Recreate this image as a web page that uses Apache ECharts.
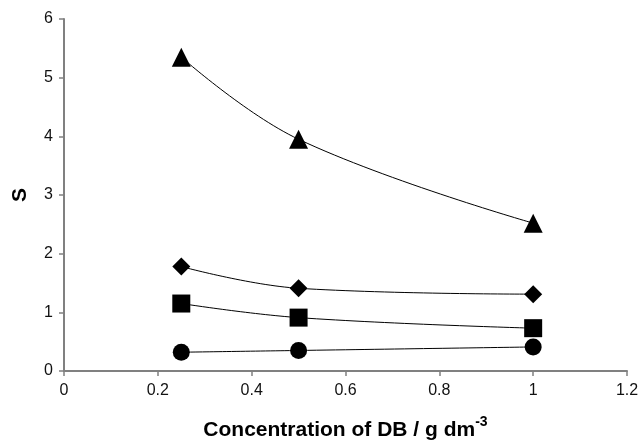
<!DOCTYPE html>
<html>
<head>
<meta charset="utf-8">
<script src="https://cdn.jsdelivr.net/npm/echarts@6/dist/echarts.min.js"></script>
<style>
  html, body { margin: 0; padding: 0; background: #fff; }
  #chart { width: 641px; height: 440px; }
</style>
</head>
<body>
<div id="chart"></div>
<script>
// concentration of DB (g dm^-3)
const conc = [0.25, 0.5, 1.0];

// S values per series
const triangleS = [5.35, 3.95, 2.52];
const diamondS = [1.78, 1.41, 1.31];
const squareS = [1.15, 0.91, 0.73];
const circleS = [0.32, 0.35, 0.41];

const xTicks = [0, 0.2, 0.4, 0.6, 0.8, 1, 1.2];
const yTicks = [0, 1, 2, 3, 4, 5, 6];

const FONT = "Liberation Sans, Arial, sans-serif";
const pairs = (ys) => conc.map((x, i) => [x, ys[i]]);

function line(symbol, ys, size) {
  return {
    type: "line",
    data: pairs(ys),
    smooth: 0.4,
    symbol: symbol,
    symbolSize: size,
    showAllSymbol: true,
    itemStyle: { color: "#000" },
    lineStyle: { color: "#000", width: 1 },
    z: 3,
  };
}

const chart = echarts.init(document.getElementById("chart"));
chart.setOption({
  animation: false,
  backgroundColor: "#fff",
  textStyle: { fontFamily: FONT },
  grid: { left: 64, right: 14, top: 19, bottom: 69, containLabel: false, outerBoundsMode: "none" },
  xAxis: {
    type: "value",
    min: xTicks[0],
    max: xTicks[xTicks.length - 1],
    interval: 0.2,
    splitLine: { show: false },
    axisLine: { lineStyle: { color: "#808080", width: 2 } },
    axisTick: { length: 5, lineStyle: { color: "#808080", width: 1.5 } },
    axisLabel: {
      color: "#111",
      fontSize: 16,
      fontFamily: FONT,
      margin: 12,
      formatter: (v) => String(+v.toFixed(1)),
    },
    name: "{a|Concentration of DB / g dm}{s|-3}",
    nameLocation: "middle",
    nameGap: 44,
    nameTextStyle: {
      rich: {
        a: { fontSize: 21, fontWeight: "bold", fontFamily: FONT, color: "#000", lineHeight: 26, verticalAlign: "bottom" },
        s: { fontSize: 14, fontWeight: "bold", fontFamily: FONT, color: "#000", lineHeight: 26, verticalAlign: "top", padding: [0, 0, 10, 0] },
      },
    },
  },
  yAxis: {
    type: "value",
    min: yTicks[0],
    max: yTicks[yTicks.length - 1],
    interval: 1,
    splitLine: { show: false },
    axisLine: { lineStyle: { color: "#808080", width: 2 } },
    axisTick: { length: 5, lineStyle: { color: "#808080", width: 1.5 } },
    axisLabel: { color: "#111", fontSize: 16, fontFamily: FONT, margin: 11 },
    name: "S",
    nameLocation: "middle",
    nameGap: 33,
    nameTextStyle: { fontSize: 21, fontWeight: "bold", fontFamily: FONT, color: "#000" },
  },
  series: [
    line("triangle", triangleS, 19),
    line("diamond", diamondS, 18),
    line("rect", squareS, 18),
    line("circle", circleS, 17),
  ],
});
</script>
</body>
</html>
